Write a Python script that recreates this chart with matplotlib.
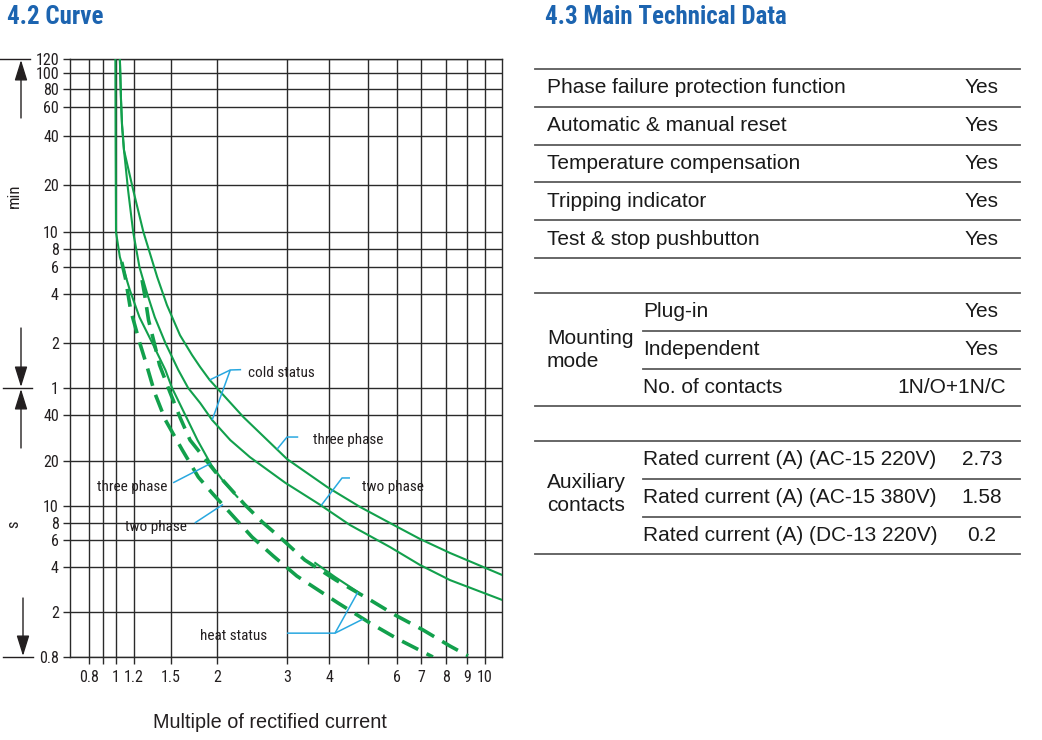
import numpy as np
import matplotlib
matplotlib.use("Agg")
import matplotlib.pyplot as plt
from matplotlib import font_manager
from matplotlib.ticker import FixedLocator, FixedFormatter, NullLocator

# tripping curves: multiple of rated current -> tripping time in seconds
cold3_x = [1.04, 1.052, 1.063, 1.084, 1.19, 1.27, 1.38, 1.464, 1.587, 1.711, 1.80, 1.91, 2.33, 3.0, 3.95,
           4.78, 5.74, 6.96, 8.18, 11.0]
cold3_t = [7200, 4026, 2800, 1970, 1115, 600, 310, 205, 134, 99.7, 82.9, 67.9, 38.8, 20.6, 13.4,
           9.87, 8.0, 6.1, 4.94, 3.54]

cold2_x = [1.04, 1.052, 1.063, 1.084, 1.13, 1.19, 1.24, 1.30, 1.36, 1.45, 1.57, 1.67, 1.80, 1.94, 2.16,
           2.42, 2.97, 3.76, 4.51, 5.74, 6.96, 8.18, 11.0]
cold2_t = [7200, 4026, 2800, 1970, 1115, 600, 360, 240, 173, 120, 79.2, 60, 47.9, 37.1, 27.4,
           21.2, 14.3, 10.2, 7.73, 5.40, 4.12, 3.27, 2.41]

# thin heat-status line, drawn with a break in the original
hot3_x = [0.995, 0.997, 1.0, 1.04, 1.15, 1.24, 1.34, 1.45, 1.51, 1.64, 1.77, 1.93, 2.08, 2.25,
          np.nan, 3.64, 4.14, 4.72]
hot3_t = [7200, 1970, 600, 422, 255, 173, 120, 79.2, 60, 40, 27.4, 18.8, 14.5, 11.5,
          np.nan, 4.25, 3.43, 2.72]

hot2_x = [1.06, 1.10, 1.16, 1.24, 1.29, 1.36, 1.45, 1.61, 1.78, 1.94, 2.16, 2.45, 2.77, 3.21, 3.64,
          4.21, 5.06, 6.04, 7.46]
hot2_t = [390, 305, 191, 122, 88.2, 55.7, 37.1, 23.6, 15.6, 12.2, 9.12, 6.31, 4.72, 3.48, 2.89,
          2.30, 1.60, 1.15, 0.8]

hot3d_x = [1.26, 1.28, 1.31, 1.35, 1.40, 1.49, 1.59, 1.69, 1.98, 2.35, 2.60, 2.93, 3.39, 4.16, 4.97,
           5.93, 7.07, 8.18, 9.05]
hot3d_t = [296, 237, 166, 125, 85.5, 56.5, 38.2, 27.4, 16.9, 10.2, 8.1, 6.0, 4.44, 3.27, 2.48,
           1.88, 1.39, 1.0, 0.82]

x_ticks = [0.8, 0.9, 1, 1.2, 1.5, 2, 3, 4, 5, 6, 7, 8, 9, 10]
x_tick_labels = ["0.8", "", "1", "1.2", "1.5", "2", "3", "4", "", "6", "7", "8", "9", "10"]
y_ticks = [0.8, 2, 4, 6, 8, 10, 20, 40, 60, 120, 240, 360, 480, 600, 1200, 2400, 3600, 4800, 6000, 7200]
y_tick_labels = ["0.8", "2", "4", "6", "8", "10", "20", "40", "1", "2", "4", "6", "8", "10", "20", "40",
                 "60", "80", "100", "120"]

features = ["Phase failure protection function", "Automatic & manual reset",
            "Temperature compensation", "Tripping indicator", "Test & stop pushbutton"]
feature_values = ["Yes", "Yes", "Yes", "Yes", "Yes"]
mounting_items = ["Plug-in", "Independent", "No. of contacts"]
mounting_values = ["Yes", "Yes", "1N/O+1N/C"]
aux_items = ["Rated current (A) (AC-15 220V)", "Rated current (A) (AC-15 380V)",
             "Rated current (A) (DC-13 220V)"]
aux_values = ["2.73", "1.58", "0.2"]


# ---- fonts ----
def pick_narrow():
    names = {f.name for f in font_manager.fontManager.ttflist}
    for n in ["Liberation Sans Narrow", "Roboto Condensed", "Open Sans Condensed",
              "Noto Sans Condensed", "DejaVu Sans Condensed", "Arial Narrow"]:
        if n in names:
            return n, "normal", True
    for f in font_manager.fontManager.ttflist:
        if f.stretch in ("condensed", "semi-condensed", "extra-condensed") and f.style == "normal":
            if f.name in ("Noto Sans", "Open Sans", "Roboto", "DejaVu Sans", "Lato", "Inter"):
                return f.name, f.stretch, True
    return ("Roboto" if "Roboto" in names else "DejaVu Sans"), "normal", False


NARROW, STRETCH, IS_NARROW = pick_narrow()
ARIAL = "Liberation Sans"
small = 11.5 if IS_NARROW else 10
label_size = 11 if IS_NARROW else 10

GREEN = "#12a04c"
BLUE = "#29a8e0"
INK = "#231f20"
GRID = "#2a2a2a"


def piecewise_log(vals, pix):
    # the printed grid is not evenly logarithmic, so follow its gridlines
    lv = np.log10(np.asarray(vals, float))
    pv = np.asarray(pix, float)

    def fwd(v):
        l = np.log10(np.clip(np.asarray(v, float), 1e-9, None))
        out = np.interp(l, lv, pv)
        out = np.where(l < lv[0], pv[0] + (l - lv[0]) * (pv[1] - pv[0]) / (lv[1] - lv[0]), out)
        out = np.where(l > lv[-1], pv[-1] + (l - lv[-1]) * (pv[-1] - pv[-2]) / (lv[-1] - lv[-2]), out)
        return out

    def inv(p):
        p = np.asarray(p, float)
        out = np.interp(p, pv, lv)
        out = np.where(p < pv[0], lv[0] + (p - pv[0]) * (lv[1] - lv[0]) / (pv[1] - pv[0]), out)
        out = np.where(p > pv[-1], lv[-1] + (p - pv[-1]) * (lv[-1] - lv[-2]) / (pv[-1] - pv[-2]), out)
        return 10 ** out

    return fwd, inv


def on_curve(xs, ts, x):
    xs = np.asarray(xs, float)
    ts = np.asarray(ts, float)
    ok = ~np.isnan(xs)
    return x, 10 ** np.interp(np.log10(x), np.log10(xs[ok]), np.log10(ts[ok]))


fig = plt.figure(figsize=(10.42, 7.40), dpi=100)
W, H = 1042, 740
left, right, top, bottom = 70, 502, 59, 657
ax = fig.add_axes([left / W, 1 - bottom / H, (right - left) / W, (bottom - top) / H])

x_scale_px = [70, 89, 103, 116, 134, 171, 217, 287, 329, 368, 397, 421, 446, 467, 485, 502]
y_scale_px = [657, 612, 567, 540, 523, 506, 461, 415, 388, 343, 294, 267, 249, 232, 185, 136, 107, 89, 73, 59]
ax.set_xscale("function", functions=piecewise_log([0.7] + x_ticks + [11], x_scale_px))
ax.set_yscale("function", functions=piecewise_log(y_ticks, [H - p for p in y_scale_px]))
ax.set_xlim(0.7, 11)
ax.set_ylim(0.8, 7200)

ax.xaxis.set_major_locator(FixedLocator(x_ticks))
ax.xaxis.set_major_formatter(FixedFormatter(x_tick_labels))
ax.yaxis.set_major_locator(FixedLocator(y_ticks))
ax.yaxis.set_major_formatter(FixedFormatter(y_tick_labels))
ax.xaxis.set_minor_locator(NullLocator())
ax.yaxis.set_minor_locator(NullLocator())
ax.grid(True, color=GRID, lw=1.0)
ax.tick_params(length=5, width=1.0, color=GRID, labelcolor=INK, labelsize=small, pad=3)
ax.tick_params(axis="x", pad=4)
for lab in ax.get_xticklabels() + ax.get_yticklabels():
    lab.set_family(NARROW)
    lab.set_stretch(STRETCH)
for sp in ax.spines.values():
    sp.set_color(GRID)
    sp.set_linewidth(1.0)

ax.plot(cold3_x, cold3_t, color=GREEN, lw=1.5, zorder=3)
ax.plot(cold2_x, cold2_t, color=GREEN, lw=1.5, zorder=3)
ax.plot(hot3_x, hot3_t, color=GREEN, lw=1.5, zorder=3)
ax.plot(hot2_x, hot2_t, color=GREEN, lw=2.6, ls=(0, (5, 2.6)), zorder=3)
ax.plot(hot3d_x, hot3d_t, color=GREEN, lw=2.6, ls=(0, (5, 2.6)), zorder=3)

lab_kw = dict(fontsize=label_size, family=NARROW, fontstretch=STRETCH, color=INK, va="center", zorder=5)


def leader(points):
    xs, ys = zip(*points)
    ax.plot(xs, ys, color=BLUE, lw=1.1, zorder=4, solid_capstyle="butt")


# cold status
knee = (2.16, 79.2)
leader([(2.30, 79.6), knee, on_curve(cold3_x, cold3_t, 1.91)])
leader([knee, on_curve(cold2_x, cold2_t, 1.94)])
ax.text(2.39, 75.6, "cold status", ha="left", **lab_kw)
# right labels
leader([(3.24, 28.7), (3.0, 28.7), on_curve(cold3_x, cold3_t, 2.83)])
ax.text(3.58, 27.4, "three phase", ha="left", **lab_kw)
leader([(4.51, 15.4), (4.31, 15.4), on_curve(cold2_x, cold2_t, 3.79)])
ax.text(4.83, 13.4, "two phase", ha="left", **lab_kw)
# left labels
leader([(1.52, 14.3), on_curve(hot3_x, hot3_t, 1.92)])
ax.text(1.47, 13.4, "three phase", ha="right", **lab_kw)
leader([(1.74, 8.0), on_curve(hot2_x, hot2_t, 2.07)])
ax.text(1.66, 7.48, "two phase", ha="right", **lab_kw)
# heat status
knee = (4.14, 1.30)
leader([(3.0, 1.30), knee, on_curve(hot3_x, hot3_t, 4.72)])
leader([knee, on_curve(hot2_x, hot2_t, 4.86)])
ax.text(2.67, 1.23, "heat status", ha="right", **lab_kw)

# ---- overlay in pixel coordinates for titles, side arrows and the table ----
ov = fig.add_axes([0, 0, 1, 1], facecolor="none")
ov.set_xlim(0, W)
ov.set_ylim(H, 0)
ov.axis("off")

TITLE_BLUE = "#1c64b0"
title_size = 18 if IS_NARROW else 14.5
ov.text(7, 17, "4.2 Curve", color=TITLE_BLUE, fontsize=title_size, family=NARROW, fontstretch=STRETCH,
        fontweight="semibold", va="center", ha="left")
ov.text(545, 17, "4.3 Main Technical Data", color=TITLE_BLUE, fontsize=title_size, family=NARROW,
        fontstretch=STRETCH, fontweight="semibold", va="center", ha="left")
ov.text(270, 722, "Multiple of rectified current", color=INK, fontsize=14.3, family=ARIAL,
        ha="center", va="center")
ov.text(14, 196, "min", rotation=90, color=INK, fontsize=small + 0.5, family=NARROW, fontstretch=STRETCH,
        ha="center", va="center")
ov.text(14, 524, "s", rotation=90, color=INK, fontsize=small + 0.5, family=NARROW, fontstretch=STRETCH,
        ha="center", va="center")

arrow_kw = dict(arrowstyle="-|>,head_length=0.9,head_width=0.28", color=INK, lw=1.0,
                mutation_scale=14, shrinkA=0, shrinkB=0)
ov.plot([0, 30], [59, 59], color=INK, lw=1.0)
ov.annotate("", xy=(21, 60), xytext=(21, 118), arrowprops=arrow_kw)
ov.plot([3, 32], [388, 388], color=INK, lw=1.0)
ov.annotate("", xy=(21, 387), xytext=(21, 328), arrowprops=arrow_kw)
ov.annotate("", xy=(21, 389), xytext=(21, 448), arrowprops=arrow_kw)
ov.plot([3, 33], [657, 657], color=INK, lw=1.0)
ov.annotate("", xy=(23, 656), xytext=(23, 598), arrowprops=arrow_kw)

# ---- table ----
RULE = "#5a5a5a"
L0, L1, R = 535, 643, 1020
VAL_C, VAL_R = 982, 1006
tab_kw = dict(fontsize=15, family=ARIAL, color="#1a1a1a", va="center")
row_h = 37.8


def rule(y, x0):
    ov.plot([x0, R], [y, y], color=RULE, lw=1.3)


def value(y, s):
    if len(s) > 5:
        ov.text(VAL_R, y, s, ha="right", **tab_kw)
    else:
        ov.text(VAL_C, y, s, ha="center", **tab_kw)


y0 = 69
for i in range(len(features) + 1):
    rule(y0 + i * row_h, L0)
for i, (name, val) in enumerate(zip(features, feature_values)):
    yc = y0 + (i + 0.5) * row_h
    ov.text(547, yc, name, ha="left", **tab_kw)
    value(yc, val)

for y_top, group, group_y, items, vals in [(293, "Mounting\nmode", 350, mounting_items, mounting_values),
                                           (441, "Auxiliary\ncontacts", 494, aux_items, aux_values)]:
    rule(y_top, L0)
    rule(y_top + 3 * row_h, L0)
    for i in (1, 2):
        rule(y_top + i * row_h, L1)
    for i, (name, val) in enumerate(zip(items, vals)):
        yc = y_top + (i + 0.5) * row_h
        ov.text(L1, yc, name, ha="left", **tab_kw)
        value(yc, val)
    ov.text(547, group_y, group, ha="left", linespacing=1.25, **tab_kw)

fig.savefig("out.png", dpi=100)
